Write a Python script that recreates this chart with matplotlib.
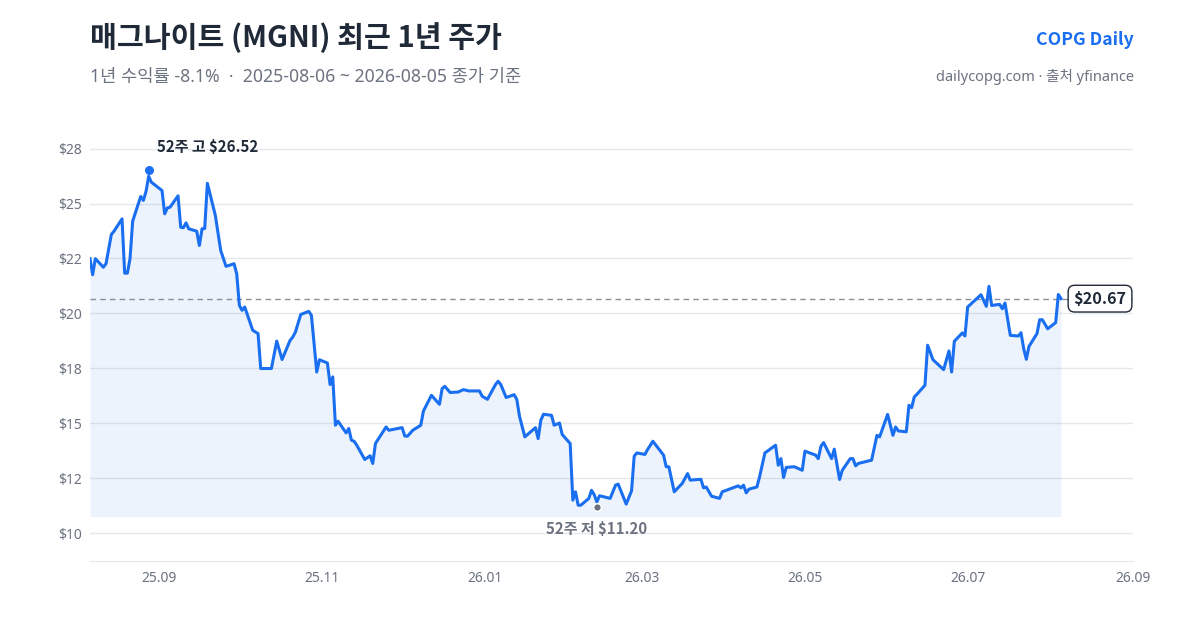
import pandas as pd
import matplotlib
matplotlib.use('Agg')
import matplotlib.pyplot as plt
import matplotlib.dates as mdates
from matplotlib.ticker import FuncFormatter, FixedLocator

plt.rcParams['font.family'] = ['Noto Sans', 'Noto Sans CJK KR', 'DejaVu Sans']
BOLD_FAMILY = ['Noto Sans CJK KR', 'DejaVu Sans']

# closing prices (vertices of the line)
dates = [
    '2025-08-06', '2025-08-07', '2025-08-08', '2025-08-11', '2025-08-12', '2025-08-14', '2025-08-15',
    '2025-08-18', '2025-08-19', '2025-08-20', '2025-08-21', '2025-08-22', '2025-08-25', '2025-08-26',
    '2025-08-27', '2025-08-28', '2025-08-29', '2025-09-02', '2025-09-03', '2025-09-04', '2025-09-05',
    '2025-09-08', '2025-09-09', '2025-09-10', '2025-09-11', '2025-09-12', '2025-09-15', '2025-09-16',
    '2025-09-17', '2025-09-18', '2025-09-19', '2025-09-22', '2025-09-24', '2025-09-26', '2025-09-29',
    '2025-09-30', '2025-10-01', '2025-10-02', '2025-10-03', '2025-10-06', '2025-10-08', '2025-10-09',
    '2025-10-13', '2025-10-15', '2025-10-17', '2025-10-20', '2025-10-21', '2025-10-22', '2025-10-24',
    '2025-10-27', '2025-10-28', '2025-10-30', '2025-10-31', '2025-11-03', '2025-11-04', '2025-11-05',
    '2025-11-06', '2025-11-07', '2025-11-10', '2025-11-11', '2025-11-12', '2025-11-13', '2025-11-14',
    '2025-11-17', '2025-11-19', '2025-11-20', '2025-11-21', '2025-11-25', '2025-11-26', '2025-12-01',
    '2025-12-02', '2025-12-03', '2025-12-05', '2025-12-08', '2025-12-09', '2025-12-12', '2025-12-15',
    '2025-12-16', '2025-12-17', '2025-12-19', '2025-12-22', '2025-12-24', '2025-12-26', '2025-12-30',
    '2025-12-31', '2026-01-02', '2026-01-05', '2026-01-06', '2026-01-07', '2026-01-09', '2026-01-12',
    '2026-01-13', '2026-01-14', '2026-01-16', '2026-01-20', '2026-01-21', '2026-01-22', '2026-01-23',
    '2026-01-26', '2026-01-27', '2026-01-29', '2026-01-30', '2026-02-02', '2026-02-03', '2026-02-04',
    '2026-02-05', '2026-02-06', '2026-02-09', '2026-02-10', '2026-02-11', '2026-02-12', '2026-02-13',
    '2026-02-17', '2026-02-19', '2026-02-20', '2026-02-23', '2026-02-25', '2026-02-26', '2026-02-27',
    '2026-03-02', '2026-03-03', '2026-03-05', '2026-03-09', '2026-03-10', '2026-03-11', '2026-03-13',
    '2026-03-16', '2026-03-18', '2026-03-19', '2026-03-23', '2026-03-24', '2026-03-25', '2026-03-27',
    '2026-03-30', '2026-03-31', '2026-04-06', '2026-04-07', '2026-04-08', '2026-04-09', '2026-04-10',
    '2026-04-13', '2026-04-14', '2026-04-16', '2026-04-20', '2026-04-21', '2026-04-22', '2026-04-23',
    '2026-04-24', '2026-04-27', '2026-04-30', '2026-05-01', '2026-05-05', '2026-05-06', '2026-05-07',
    '2026-05-08', '2026-05-11', '2026-05-12', '2026-05-14', '2026-05-15', '2026-05-18', '2026-05-19',
    '2026-05-20', '2026-05-21', '2026-05-26', '2026-05-28', '2026-05-29', '2026-06-01', '2026-06-03',
    '2026-06-04', '2026-06-05', '2026-06-08', '2026-06-09', '2026-06-10', '2026-06-11', '2026-06-12',
    '2026-06-15', '2026-06-16', '2026-06-18', '2026-06-22', '2026-06-24', '2026-06-25', '2026-06-26',
    '2026-06-29', '2026-06-30', '2026-07-01', '2026-07-06', '2026-07-08', '2026-07-09', '2026-07-10',
    '2026-07-13', '2026-07-14', '2026-07-15', '2026-07-17', '2026-07-20', '2026-07-21', '2026-07-22',
    '2026-07-23', '2026-07-24', '2026-07-27', '2026-07-28', '2026-07-29', '2026-07-31', '2026-08-03',
    '2026-08-04', '2026-08-05',
]
closes = [
    22.49, 21.76, 22.49, 22.10, 22.26, 23.59, 23.74,
    24.30, 21.83, 21.83, 22.49, 24.20, 25.32, 25.14,
    25.55, 26.24, 25.97, 25.59, 24.53, 24.80, 24.83,
    25.35, 23.92, 23.90, 24.12, 23.85, 23.74, 23.09,
    23.85, 23.86, 25.92, 24.45, 22.86, 22.14, 22.26,
    21.80, 20.36, 20.14, 20.29, 19.23, 19.08, 17.49,
    17.49, 18.74, 17.90, 18.77, 18.92, 19.15, 19.95,
    20.09, 19.91, 17.33, 17.89, 17.74, 16.76, 17.11,
    14.91, 15.09, 14.56, 14.76, 14.23, 14.18, 14.00,
    13.35, 13.52, 13.17, 14.08, 14.83, 14.68, 14.80,
    14.42, 14.41, 14.68, 14.91, 15.56, 16.27, 15.86,
    16.58, 16.68, 16.40, 16.42, 16.53, 16.47, 16.47,
    16.23, 16.09, 16.76, 16.91, 16.76, 16.17, 16.30,
    16.08, 15.32, 14.38, 14.80, 14.30, 15.14, 15.41,
    15.36, 14.91, 15.01, 14.49, 14.08, 11.50, 11.88,
    11.27, 11.27, 11.58, 11.95, 11.75, 11.42, 11.70,
    11.58, 12.18, 12.23, 11.32, 11.92, 13.50, 13.65,
    13.58, 13.80, 14.18, 13.55, 13.02, 13.02, 11.88,
    12.26, 12.71, 12.41, 12.45, 12.06, 12.10, 11.68,
    11.58, 11.88, 12.15, 12.06, 12.18, 11.83, 12.00,
    12.10, 12.56, 13.65, 14.00, 13.09, 13.39, 12.53,
    12.99, 13.02, 12.86, 13.73, 13.55, 13.39, 13.95,
    14.12, 13.39, 13.82, 12.44, 12.86, 13.39, 13.39,
    13.06, 13.17, 13.32, 14.45, 14.38, 15.40, 14.45,
    14.83, 14.65, 14.61, 15.82, 15.71, 16.20, 16.32,
    16.73, 18.55, 17.89, 17.44, 18.29, 17.33, 18.73,
    19.11, 18.97, 20.29, 20.85, 20.32, 21.23, 20.36,
    20.41, 20.21, 20.47, 19.00, 18.97, 19.12, 18.40,
    17.91, 18.50, 19.08, 19.71, 19.71, 19.30, 19.58,
    20.86, 20.67,
]

high_date, high_val = '2025-08-28', 26.52
low_date, low_val = '2026-02-12', 11.20
fill_base = 10.75

ytick_vals = [10, 12.5, 15, 17.5, 20, 22.5, 25, 27.5]

BLUE = '#1a6ff0'
DARK = '#1f2937'
GRAY = '#6b7280'
GRID = '#e5e7eb'

df = pd.DataFrame({'date': pd.to_datetime(dates), 'close': closes})
last = df['close'].iloc[-1]

fig = plt.figure(figsize=(12, 6.3), dpi=100)
ax = fig.add_axes([0.075, 0.1095, 0.8692, 0.7])

ax.fill_between(df['date'], df['close'], fill_base, color=BLUE, alpha=0.08, lw=0)
ax.plot(df['date'], df['close'], color=BLUE, lw=2.2, solid_joinstyle='round', zorder=3)
ax.axhline(last, color='#8a909a', lw=1.0, ls=(0, (4, 3)), zorder=2)

# 52주 고/저 표시
hd = pd.Timestamp(high_date)
ld = pd.Timestamp(low_date)
ax.scatter([hd], [high_val], s=30, color=BLUE, zorder=4)
ax.annotate(f'52주 고 ${high_val:.2f}', xy=(hd, high_val), xytext=(6, 17),
            textcoords='offset points', ha='left', va='center', family=BOLD_FAMILY,
            fontsize=10.8, fontweight='bold', color=DARK)
ax.scatter([ld], [low_val], s=30, color=GRAY, edgecolor='white', linewidth=1, zorder=4)
ax.annotate(f'52주 저 ${low_val:.2f}', xy=(ld, low_val), xytext=(0, -16),
            textcoords='offset points', ha='center', va='center', family=BOLD_FAMILY,
            fontsize=10.8, fontweight='bold', color=GRAY)

# last price label
ax.annotate(f'${last:.2f}', xy=(df['date'].iloc[-1], last), xytext=(9, 0),
            textcoords='offset points', ha='left', va='center', family=BOLD_FAMILY,
            fontsize=11.7, fontweight='bold', color=DARK, zorder=5,
            bbox=dict(boxstyle='round,pad=0.33,rounding_size=0.4', fc='white', ec=DARK, lw=1))

ax.set_xlim(pd.Timestamp('2025-08-06'), pd.Timestamp('2026-09-01'))
ax.set_ylim(8.73, 28.8)

ax.yaxis.set_major_locator(FixedLocator(ytick_vals))
ax.yaxis.set_major_formatter(FuncFormatter(lambda v, p: f'${v:.0f}'))
ax.xaxis.set_major_locator(mdates.MonthLocator(bymonth=[1, 3, 5, 7, 9, 11]))
ax.xaxis.set_major_formatter(mdates.DateFormatter('%y.%m'))

ax.grid(axis='y', color=GRID, lw=1)
ax.set_axisbelow(True)
for s in ['top', 'right', 'left']:
    ax.spines[s].set_visible(False)
ax.spines['bottom'].set_color(GRID)
ax.tick_params(axis='both', length=0, labelsize=10, colors=GRAY)
ax.tick_params(axis='y', pad=6)
ax.tick_params(axis='x', pad=7)

# header
fig.text(90 / 1200, 1 - 38 / 630, '매그나이트 (MGNI) 최근 1년 주가', fontsize=21,
         family=BOLD_FAMILY, fontweight='bold', color=DARK, ha='left', va='center')
fig.text(90 / 1200, 1 - 77 / 630, '1년 수익률 -8.1%  ·  2025-08-06 ~ 2026-08-05 종가 기준',
         fontsize=12.7, color=GRAY, ha='left', va='center')
fig.text(1134 / 1200, 1 - 40 / 630, 'COPG Daily', fontsize=12.7, family=BOLD_FAMILY,
         fontweight='bold', color=BLUE, ha='right', va='center')
fig.text(1134 / 1200, 1 - 77 / 630, 'dailycopg.com · 출처 yfinance', fontsize=10.5,
         color=GRAY, ha='right', va='center')

fig.savefig('out.png', dpi=100, facecolor='white')
